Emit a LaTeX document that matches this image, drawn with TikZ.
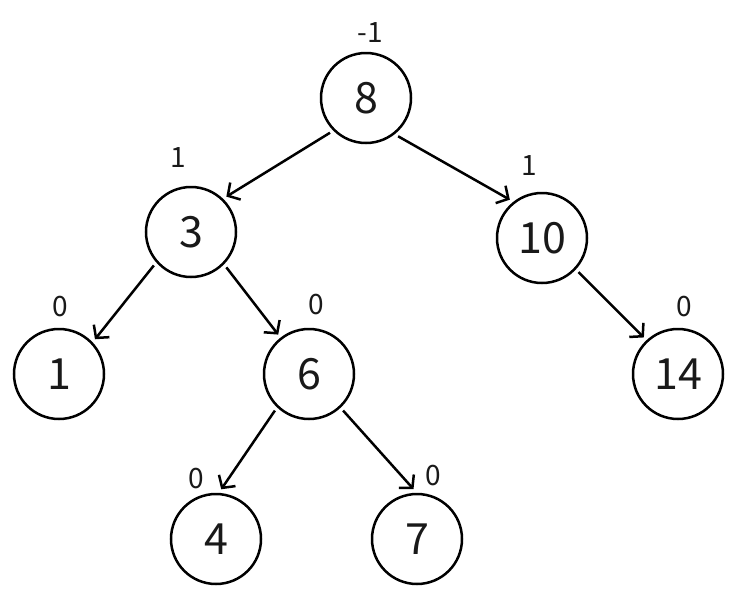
\documentclass[tikz,border=0pt]{standalone}
\usepackage{fontspec}
\setmainfont{Noto Sans CJK SC}
\usetikzlibrary{arrows.meta}
\tikzset{
  tnode/.style={circle,draw=black,line width=2.5pt,minimum size=90pt,inner sep=0pt,outer sep=5pt,font=\fontsize{43}{43}\selectfont,text=black!90},
  bal/.style={font=\fontsize{28}{28}\selectfont,text=black!90,inner sep=0pt},
  edge/.style={line width=2.5pt,-{Straight Barb[length=9pt,width=20pt,line width=2.5pt]}}
}
\begin{document}
\begin{tikzpicture}[x=1pt,y=-1pt]
\useasboundingbox[fill=white] (0,0) rectangle (740,600);
\node[tnode] (n8) at (366,98) {8};
\node[tnode] (n3) at (191,232) {3};
\node[tnode] (n10) at (542,238) {10};
\node[tnode] (n1) at (59,374) {1};
\node[tnode] (n6) at (309,374) {6};
\node[tnode] (n14) at (678,374) {14};
\node[tnode] (n4) at (216,539) {4};
\node[tnode] (n7) at (417,539) {7};
\node[bal] (b8) at (370,33) {-1};
\node[bal] (b3) at (178,158) {1};
\node[bal] (b10) at (529,166) {1};
\node[bal] (b1) at (60,307) {0};
\node[bal] (b6) at (316,305) {0};
\node[bal] (b14) at (684,307) {0};
\node[bal] (b4) at (196,479) {0};
\node[bal] (b7) at (433,476) {0};
\draw[edge] (n8.-136) -- (n3.45);
\draw[edge] (n8.-50) -- (n10.130);
\draw[edge] (n3.-138) -- (n1.44);
\draw[edge] (n3.-45) -- (n6.128);
\draw[edge] (n10.-43) -- (n14.133);
\draw[edge] (n6.-133) -- (n4.84);
\draw[edge] (n6.-47) -- (n7.94);
\end{tikzpicture}
\end{document}
